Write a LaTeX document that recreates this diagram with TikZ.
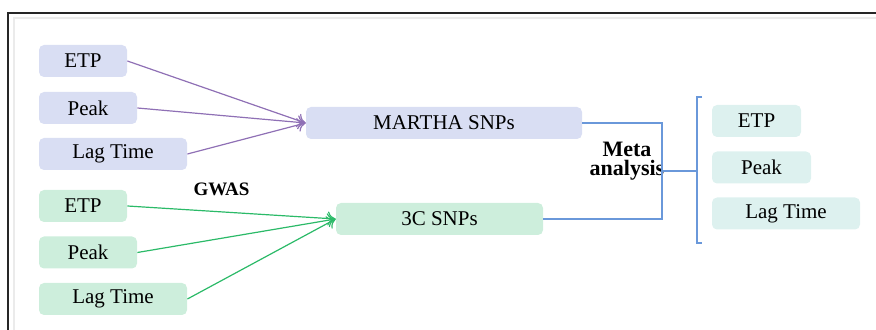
\documentclass[tikz,border=0pt]{standalone}
\usepackage{fontspec}
\setmainfont{Liberation Serif}
\usetikzlibrary{arrows.meta}

\definecolor{marthafill}{HTML}{D9DEF3}
\definecolor{ccfill}{HTML}{CDEEDC}
\definecolor{resfill}{HTML}{DDF1EF}
\definecolor{marthaline}{HTML}{8F70B5}
\definecolor{ccline}{HTML}{2BBA68}
\definecolor{metaline}{HTML}{6A98DA}

\tikzset{
    box/.style={rounded corners=2.5pt, minimum height=16pt, inner sep=0pt,
        font=\fontsize{10.5}{12}\selectfont},
    marthabox/.style={box, fill=marthafill},
    ccbox/.style={box, fill=ccfill},
    resbox/.style={box, fill=resfill},
    marthaarrow/.style={draw=marthaline, line width=0.6pt, -{To[length=4pt, width=7pt]}},
    ccarrow/.style={draw=ccline, line width=0.6pt, -{To[length=4pt, width=7pt]}},
    metalink/.style={draw=metaline, line width=0.7pt},
    boldlabel/.style={font=\bfseries\fontsize{11}{9.5}\selectfont, align=center, inner sep=0pt}
}

\begin{document}
\begin{tikzpicture}[x=0.5pt, y=-0.5pt]
    \useasboundingbox (0,0) rectangle (876,330);

    % frame
    \draw[black!85, line width=0.6pt] (8,330) -- (8,13) -- (876,13);
    \draw[black!8, line width=0.6pt] (14,330) -- (14,18) -- (876,18);

    % MARTHA
    \node[marthabox, minimum width=44pt] (metp) at (83,61) {ETP};
    \node[marthabox, minimum width=49pt] (mpeak) at (88,108) {Peak};
    \node[marthabox, minimum width=74pt] (mlag) at (113,154) {Lag Time};
    \node[marthabox, minimum width=138pt] (martha) at (444,123) {MARTHA SNPs};

    % 3C
    \node[ccbox, minimum width=44pt] (cetp) at (83,206) {ETP};
    \node[ccbox, minimum width=49pt] (cpeak) at (88,252.5) {Peak};
    \node[ccbox, minimum width=74pt] (clag) at (113,299) {Lag Time};
    \node[ccbox, minimum width=103.5pt] (ccsnp) at (439.5,219) {3C SNPs};

    % results
    \node[resbox, minimum width=44.5pt] (retp) at (756.5,121) {ETP};
    \node[resbox, minimum width=49.5pt] (rpeak) at (761.5,167.5) {Peak};
    \node[resbox, minimum width=74pt] (rlag) at (786,213.5) {Lag Time};

    \node[boldlabel, font=\bfseries\fontsize{9.5}{10}\selectfont] (gwas) at (221.5,189) {GWAS};
    \node[boldlabel] (meta) at (627,161) {Meta\\analysis};

    \draw[marthaarrow] (metp.east) -- (martha.west);
    \draw[marthaarrow] (mpeak.east) -- (martha.west);
    \draw[marthaarrow] (mlag.east) -- (martha.west);

    \draw[ccarrow] (cetp.east) -- (ccsnp.west);
    \draw[ccarrow] (cpeak.east) -- (ccsnp.west);
    \draw[ccarrow] (clag.east) -- (ccsnp.west);

    % meta analysis bracket
    \coordinate (join) at (662,171);
    \coordinate (brk) at (697,171);
    \coordinate (brktop) at (702,97);
    \coordinate (brkbot) at (702,243);
    \draw[metalink] (martha.east) -| (join) |- (ccsnp.east);
    \draw[metalink] (join) -- (brk);
    \draw[metalink] (brktop) -- ++(-5,0) |- (brkbot);
\end{tikzpicture}
\end{document}
